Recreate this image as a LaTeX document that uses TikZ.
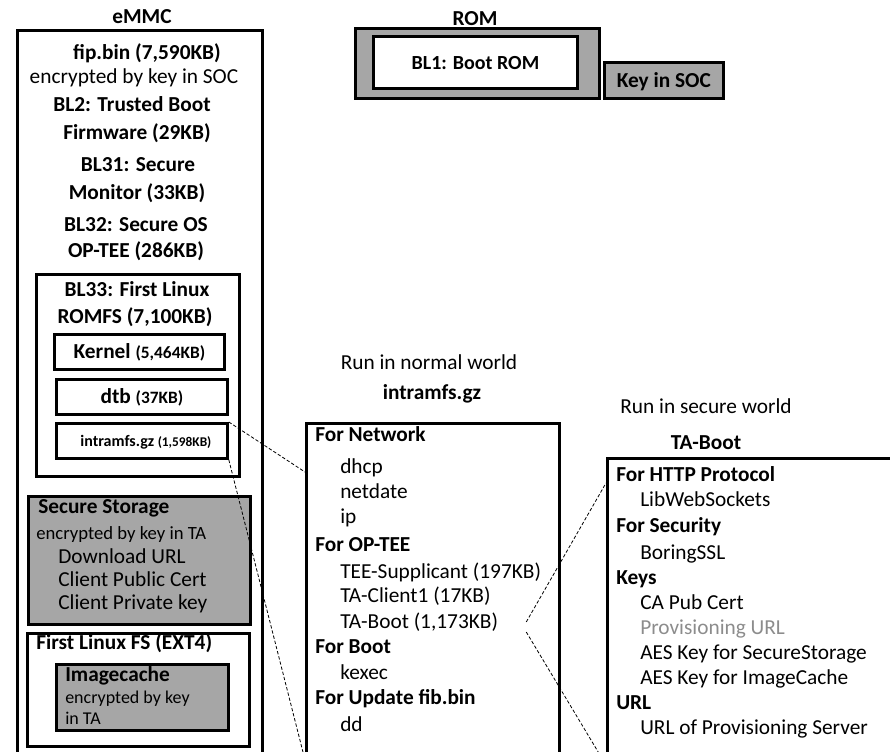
\documentclass[tikz,border=0pt]{standalone}
\usepackage{fontspec}
\setmainfont{Carlito}
\usepackage{xcolor}
\definecolor{boxgray}{RGB}{166,166,166}
\definecolor{urlgray}{RGB}{140,140,140}
\usepackage{tikz}
\usetikzlibrary{positioning}

\tikzset{
  box/.style={draw=black, line width=2.1pt, inner sep=0pt, anchor=north west},
  graybox/.style={box, fill=boxgray},
  boldtxt/.style={font=\fontsize{16}{19}\selectfont\bfseries, inner sep=0pt, text height=10pt, text depth=0pt},
  normtxt/.style={font=\fontsize{16}{19}\selectfont, inner sep=0pt, text height=10pt, text depth=0pt},
  headline/.style={boldtxt, anchor=west},
  itemline/.style={normtxt, anchor=west},
  zoomline/.style={line width=0.6pt, dash pattern=on 2.5pt off 1.5pt}
}

\begin{document}
\begin{tikzpicture}[x=0.75pt, y=-0.75pt]
  \useasboundingbox (0,0) rectangle (890,752);

  % eMMC
  \node[box, minimum width=245*0.75pt, minimum height=770*0.75pt] (emmc) at (16,29) {};
  \node[boldtxt] (emmclbl) at (142,17) {eMMC};
  \node[boldtxt] (fip) at (147,53) {fip.bin (7,590KB)};
  \node[normtxt] (fipkey) at (134,77) {encrypted by key in SOC};
  \node[boldtxt] (bltwoa) at (132,105) {BL2: Trusted Boot};
  \node[boldtxt] (bltwob) at (137,133) {Firmware (29KB)};
  \node[boldtxt] (blmona) at (138,165) {BL31: Secure};
  \node[boldtxt] (blmonb) at (137,193) {Monitor (33KB)};
  \node[boldtxt] (blosa) at (136,225) {BL32: Secure OS};
  \node[boldtxt] (blosb) at (136,251) {OP-TEE (286KB)};

  \node[box, minimum width=203*0.75pt, minimum height=202*0.75pt] (romfs) at (35,273) {};
  \node[boldtxt] (romfsa) at (137,290) {BL33: First Linux};
  \node[boldtxt] (romfsb) at (135,317) {ROMFS (7,100KB)};
  \node[box, minimum width=170*0.75pt, minimum height=35*0.75pt] (kernel) at (53,333) {};
  \node[boldtxt] (kerneltxt) at (kernel) {Kernel {\fontsize{13}{15}\selectfont(5,464KB)}};
  \node[box, minimum width=171*0.75pt, minimum height=35*0.75pt] (dtb) at (55,378) {};
  \node[boldtxt] (dtbtxt) at (dtb) {dtb {\fontsize{13}{15}\selectfont(37KB)}};
  \node[box, minimum width=171*0.75pt, minimum height=35*0.75pt] (ramfs) at (55,422) {};
  \node[boldtxt, font=\fontsize{12}{14}\selectfont\bfseries, text height=8pt] (ramfstxt) at ([xshift=3pt]ramfs) {intramfs.gz {\fontsize{10}{12}\selectfont(1,598KB)}};

  \node[graybox, minimum width=222*0.75pt, minimum height=128*0.75pt] (secstore) at (27,495) {};
  \node[headline] (secstorehd) at (38,507) {Secure Storage};
  \node[itemline, font=\fontsize{14}{17}\selectfont] (secstorekey) at (36,533) {encrypted by key in TA};
  \node[itemline] (dlurl) at (58,557) {Download URL};
  \node[itemline] (pubcert) at (58,580) {Client Public Cert};
  \node[itemline] (privkey) at (58,603) {Client Private key};

  \node[box, minimum width=222*0.75pt, minimum height=113*0.75pt] (linuxfs) at (26,632) {};
  \node[headline] (linuxfshd) at (36,643) {First Linux FS (EXT4)};
  \node[graybox, minimum width=172*0.75pt, minimum height=66*0.75pt] (imgcache) at (55,663) {};
  \node[headline] (imgcachehd) at (65,675) {Imagecache};
  \node[itemline, font=\fontsize{13.5}{16}\selectfont] (imgcachea) at (65,697) {encrypted by key};
  \node[itemline, font=\fontsize{13.5}{16}\selectfont] (imgcacheb) at (65,718) {in TA};

  % ROM
  \node[graybox, minimum width=244*0.75pt, minimum height=70*0.75pt] (rom) at (354,27) {};
  \node[boldtxt] (romlbl) at (475,19) {ROM};
  \node[box, fill=white, minimum width=204*0.75pt, minimum height=52*0.75pt] (bootrom) at (372,35) {};
  \node[boldtxt, font=\fontsize{15}{18}\selectfont\bfseries] (bootromtxt) at (bootrom) {BL1: Boot ROM};
  \node[graybox, minimum width=119*0.75pt, minimum height=36*0.75pt] (socke) at (603,61) {};
  \node[boldtxt] (soctxt) at (socke) {Key in SOC};

  % intramfs.gz, normal world
  \node[normtxt] (normal) at (429,363) {Run in normal world};
  \node[boldtxt] (ramfslbl) at (432,393) {intramfs.gz};
  \node[box, minimum width=253*0.75pt, minimum height=400*0.75pt] (ramfsbox) at (305,422) {};
  \node[headline] (forNet) at (315,435) {For Network};
  \node[itemline] (dhcp) at (340,467) {dhcp};
  \node[itemline] (netdate) at (340,492) {netdate};
  \node[itemline] (ip) at (340,517) {ip};
  \node[headline] (forTee) at (315,545) {For OP-TEE};
  \node[itemline] (supp) at (340,572) {TEE-Supplicant (197KB)};
  \node[itemline] (client) at (340,596) {TA-Client1 (17KB)};
  \node[itemline] (taboot) at (340,622) {TA-Boot (1,173KB)};
  \node[headline] (forBoot) at (315,647) {For Boot};
  \node[itemline] (kexec) at (340,673) {kexec};
  \node[headline] (forUpd) at (315,698) {For Update fib.bin};
  \node[itemline] (dd) at (340,725) {dd};

  % TA-Boot, secure world
  \node[normtxt] (secure) at (706,407) {Run in secure world};
  \node[boldtxt] (tabootlbl) at (706,443) {TA-Boot};
  \node[box, minimum width=300*0.75pt, minimum height=350*0.75pt] (tabootbox) at (606,457) {};
  \node[headline] (forHttp) at (616,475) {For HTTP Protocol};
  \node[itemline] (lws) at (640,500) {LibWebSockets};
  \node[headline] (forSec) at (616,526) {For Security};
  \node[itemline] (ssl) at (640,553) {BoringSSL};
  \node[headline] (keys) at (616,578) {Keys};
  \node[itemline] (cacert) at (640,603) {CA Pub Cert};
  \node[itemline, text=urlgray] (provurl) at (640,628) {Provisioning URL};
  \node[itemline] (aesss) at (640,653) {AES Key for SecureStorage};
  \node[itemline] (aesic) at (640,678) {AES Key for ImageCache};
  \node[headline] (url) at (616,703) {URL};
  \node[itemline] (provsrv) at (640,728) {URL of Provisioning Server};

  % zoom lines
  \coordinate (netin) at (305,472);
  \coordinate (netbot) at (305,760);
  \coordinate (secin) at (606,483);
  \coordinate (secbot) at (606,765);
  \draw[zoomline] (ramfs.north east) -- (netin);
  \draw[zoomline] (ramfs.south east) -- (netbot);
  \draw[zoomline] ([shift={(28,0)}]taboot.east) -- (secin);
  \draw[zoomline] ([shift={(28,10)}]taboot.east) -- (secbot);
\end{tikzpicture}
\end{document}
